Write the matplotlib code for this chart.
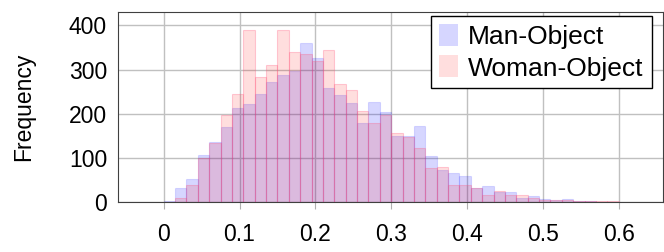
import numpy as np
import matplotlib.pyplot as plt

# 40 bins of width 0.015 from 0 to 0.6
bin_edges = np.linspace(0, 0.6, 41)

man_counts = [2, 32, 53, 107, 137, 171, 214, 223, 244, 271,
              287, 297, 361, 327, 259, 242, 225, 180, 226, 204,
              150, 150, 173, 104, 73, 65, 59, 32, 37, 23,
              22, 10, 13, 7, 4, 7, 3, 2, 1, 1]
woman_counts = [0, 10, 39, 100, 133, 196, 244, 390, 283, 311,
                389, 340, 336, 320, 345, 268, 253, 206, 178, 196,
                156, 148, 122, 78, 80, 38, 39, 33, 17, 26,
                17, 17, 10, 5, 5, 4, 3, 2, 2, 3]

plt.rcParams['font.family'] = ['Liberation Sans', 'DejaVu Sans']
fig = plt.figure(figsize=(6.64, 2.52), dpi=100)
ax = fig.add_axes([0.178, 0.198, 0.82, 0.754])

centers = bin_edges[:-1]
ax.hist(centers, bins=bin_edges, weights=man_counts,
        facecolor=(0, 0, 1, 0.16), edgecolor=(0, 0, 1, 0.12), linewidth=0.8,
        label='Man-Object')
ax.hist(centers, bins=bin_edges, weights=woman_counts,
        facecolor=(1, 0, 0, 0.13), edgecolor=(1, 0.35, 0.5, 0.3), linewidth=0.8,
        label='Woman-Object')

ax.set_xlim(-0.06, 0.658)
ax.set_ylim(0, 430)
ax.set_xticks([0, 0.1, 0.2, 0.3, 0.4, 0.5, 0.6])
ax.set_xticklabels(['0', '0.1', '0.2', '0.3', '0.4', '0.5', '0.6'])
ax.set_yticks([0, 100, 200, 300, 400])
ax.grid(True, color='#c0c0c0', linewidth=1)
ax.set_axisbelow(True)
ax.tick_params(axis='x', labelsize=16.5, color='#b0b0b0', length=5, pad=10)
ax.tick_params(axis='y', labelsize=16.5, length=0, pad=8)
ax.set_ylabel('Frequency', fontsize=16.5, labelpad=24)
for s in ax.spines.values():
    s.set_color('#404040')

leg = ax.legend(loc='upper right', bbox_to_anchor=(0.98, 0.98), borderaxespad=0,
                fontsize=19, fancybox=False, framealpha=1,
                edgecolor='black', handlelength=0.7, handleheight=0.9,
                handletextpad=0.4, borderpad=0.3, labelspacing=0.25)
leg.get_frame().set_linewidth(1)
for h in leg.legend_handles:
    h.set_edgecolor('none')

fig.savefig('out.png', dpi=100)
